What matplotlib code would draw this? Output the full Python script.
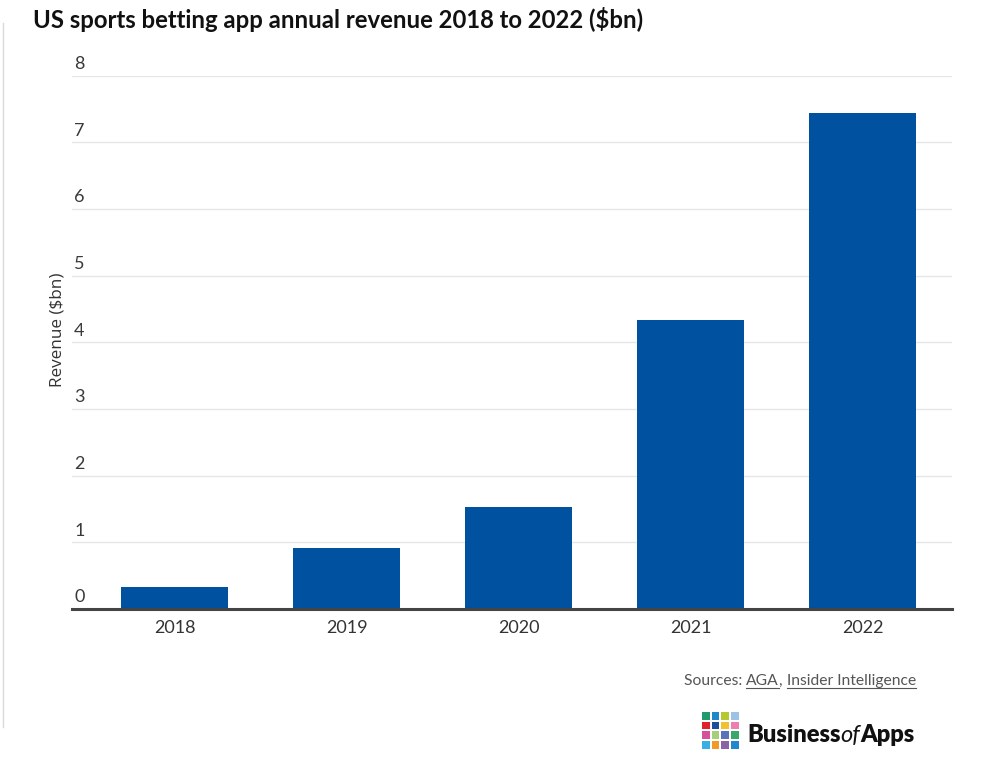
import matplotlib
matplotlib.use("Agg")
import matplotlib.pyplot as plt
from matplotlib.lines import Line2D
from matplotlib.patches import Rectangle

years = ["2018", "2019", "2020", "2021", "2022"]
revenue = [0.33, 0.92, 1.53, 4.33, 7.44]
yticks = [0, 1, 2, 3, 4, 5, 6, 7, 8]

logo_colors = [
    ["#1f9a6e", "#1e88c8", "#b5c832", "#9ac3e6"],
    ["#e0202a", "#1b4f9c", "#f2c12e", "#ec7fb0"],
    ["#d6509a", "#a6cf78", "#5b73b8", "#3aa86b"],
    ["#3ab0e2", "#f29a26", "#8a62a8", "#2088cc"],
]

W, H = 986, 762
plt.rcParams["font.family"] = ["Lato", "DejaVu Sans"]

fig = plt.figure(figsize=(W / 100, H / 100), dpi=100)
fig.patch.set_facecolor("white")

# main axes, placed in pixel terms
ax = fig.add_axes([72 / W, 1 - 609 / H, (951.5 - 72) / W, (609 - 75.5) / H])
x = list(range(len(years)))
ax.bar(x, revenue, width=0.622, color="#0051a0", zorder=3)
ax.set_xlim(-0.596, 4.517)
ax.set_ylim(0, 8)

ax.set_yticks(yticks)
ax.set_yticklabels([])
ax.tick_params(axis="y", length=0)
ax.grid(axis="y", color="#e6e6e6", linewidth=1, zorder=0)
for t in yticks:
    ax.annotate(str(t), xy=(0, t), xycoords=("axes fraction", "data"),
                xytext=(1.5, 2.6), textcoords="offset points",
                ha="left", va="bottom", fontsize=13, color="#3a3a3a")

ax.set_xticks(x)
ax.set_xticklabels(years, fontsize=13, color="#333333")
ax.tick_params(axis="x", length=0, pad=8)

for s in ["top", "right", "left"]:
    ax.spines[s].set_visible(False)
ax.spines["bottom"].set_color("#444444")
ax.spines["bottom"].set_linewidth(2.2)
ax.spines["bottom"].set_zorder(4)

fig.text(57 / W, 1 - 330 / H, "Revenue ($bn)", rotation=90, ha="center", va="center",
         fontsize=12.3, color="#333333", family=["Open Sans", "DejaVu Sans"])

fig.text(33 / W, 1 - 28 / H, "US sports betting app annual revenue 2018 to 2022 ($bn)",
         ha="left", va="baseline", fontsize=17.2, fontweight="bold", color="#111111")

# left page border
fig.add_artist(Line2D([2.5 / W, 2.5 / W], [1 - 23 / H, 1 - 727 / H],
                      transform=fig.transFigure, color="#d9d9d9", linewidth=1))

# sources line with underlined links
renderer = fig.canvas.get_renderer()
parts = [("Sources: ", False), ("AGA", True), (", ", False), ("Insider Intelligence", True)]
px = 684
base_y = 685
for txt, under in parts:
    t = fig.text(px / W, 1 - base_y / H, txt, ha="left", va="baseline",
                 fontsize=11.25, color="#555555")
    bb = t.get_window_extent(renderer)
    if under:
        uy = 1 - (base_y + 2.5) / H
        fig.add_artist(Line2D([px / W, (px + bb.width) / W], [uy, uy],
                              transform=fig.transFigure, color="#555555", linewidth=0.8))
    px += bb.width

# logo squares
lax = fig.add_axes([701.5 / W, 1 - 750 / H, 38.5 / W, 38.5 / H])
lax.set_xlim(0, 4)
lax.set_ylim(4, 0)
lax.axis("off")
for r, row in enumerate(logo_colors):
    for c, col in enumerate(row):
        lax.add_patch(Rectangle((c + 0.05, r + 0.05), 0.82, 0.82, color=col, linewidth=0))

lx = 747
for txt, style in [("Business", "normal"), ("of", "italic"), ("Apps", "normal")]:
    t = fig.text(lx / W, 1 - 742 / H, txt, ha="left", va="baseline", fontsize=17,
                 fontweight="heavy" if style == "normal" else "normal", fontstyle=style,
                 color="#111111")
    lx += t.get_window_extent(renderer).width

fig.savefig("out.png", dpi=100, facecolor="white")
